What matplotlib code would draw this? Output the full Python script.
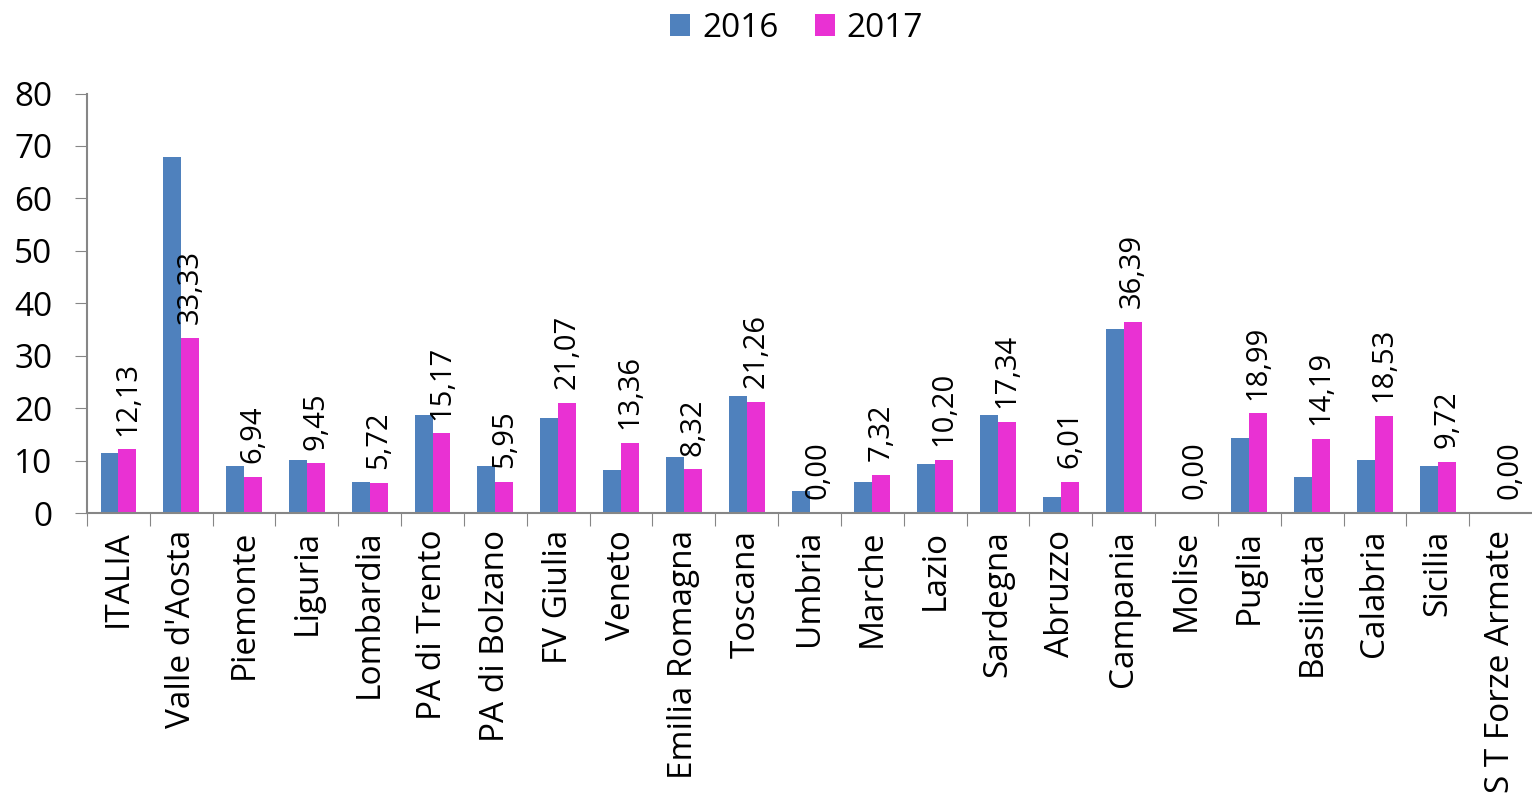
import matplotlib.pyplot as plt
import numpy as np

plt.rcParams['font.family'] = ['Open Sans', 'DejaVu Sans']

regioni = ["ITALIA", "Valle d'Aosta", "Piemonte", "Liguria", "Lombardia",
           "PA di Trento", "PA di Bolzano", "FV Giulia", "Veneto",
           "Emilia Romagna", "Toscana", "Umbria", "Marche", "Lazio",
           "Sardegna", "Abruzzo", "Campania", "Molise", "Puglia",
           "Basilicata", "Calabria", "Sicilia", "S T Forze Armate"]
v2016 = [11.4, 67.9, 8.9, 10.2, 5.9, 18.6, 9.0, 18.2, 8.2, 10.6, 22.4, 4.2,
         5.9, 9.3, 18.6, 3.1, 35.1, 0.0, 14.3, 6.8, 10.1, 8.9, 0.0]
v2017 = [12.13, 33.33, 6.94, 9.45, 5.72, 15.17, 5.95, 21.07, 13.36, 8.32,
         21.26, 0.00, 7.32, 10.20, 17.34, 6.01, 36.39, 0.00, 18.99, 14.19,
         18.53, 9.72, 0.00]

blu = '#4f81bd'
rosa = '#e931d3'
grigio = '#868686'

fig = plt.figure(figsize=(15.32, 7.96), dpi=100)
ax = fig.add_axes([0.0568, 0.3555, 0.9432, 0.527])

x = np.arange(len(regioni))
w = 0.285
ax.bar(x - w / 2, v2016, w, color=blu, label='2016')
ax.bar(x + w / 2, v2017, w, color=rosa, label='2017')

# etichette solo sul 2017
for xi, v in zip(x, v2017):
    ax.annotate(f"{v:.2f}".replace('.', ','), (xi + w / 2, v),
                xytext=(0, 10), textcoords='offset points', rotation=90,
                ha='center', va='bottom', fontsize=21)

ax.set_xlim(-0.5, len(regioni) - 0.5)
ax.set_ylim(0, 80)
ax.set_yticks(range(0, 81, 10))
ax.tick_params(axis='y', labelsize=24, length=9, color=grigio, pad=16)

ax.set_xticks(x - 0.5, minor=False)
ax.set_xticklabels([])
ax.set_xticks(x, minor=True)
ax.set_xticklabels(regioni, minor=True, rotation=90, fontsize=24)
ax.tick_params(axis='x', which='major', length=9, color=grigio)
ax.tick_params(axis='x', which='minor', length=0, pad=12)

for s in ['top', 'right']:
    ax.spines[s].set_visible(False)
for s in ['left', 'bottom']:
    ax.spines[s].set_color(grigio)
    ax.spines[s].set_linewidth(1.5)

fig.legend(loc='upper center', bbox_to_anchor=(0.52, 1.023), ncol=2,
           frameon=False, fontsize=24, handlelength=0.6, handleheight=0.6,
           handletextpad=0.35, columnspacing=1.1)

fig.savefig('out.png', dpi=100)
